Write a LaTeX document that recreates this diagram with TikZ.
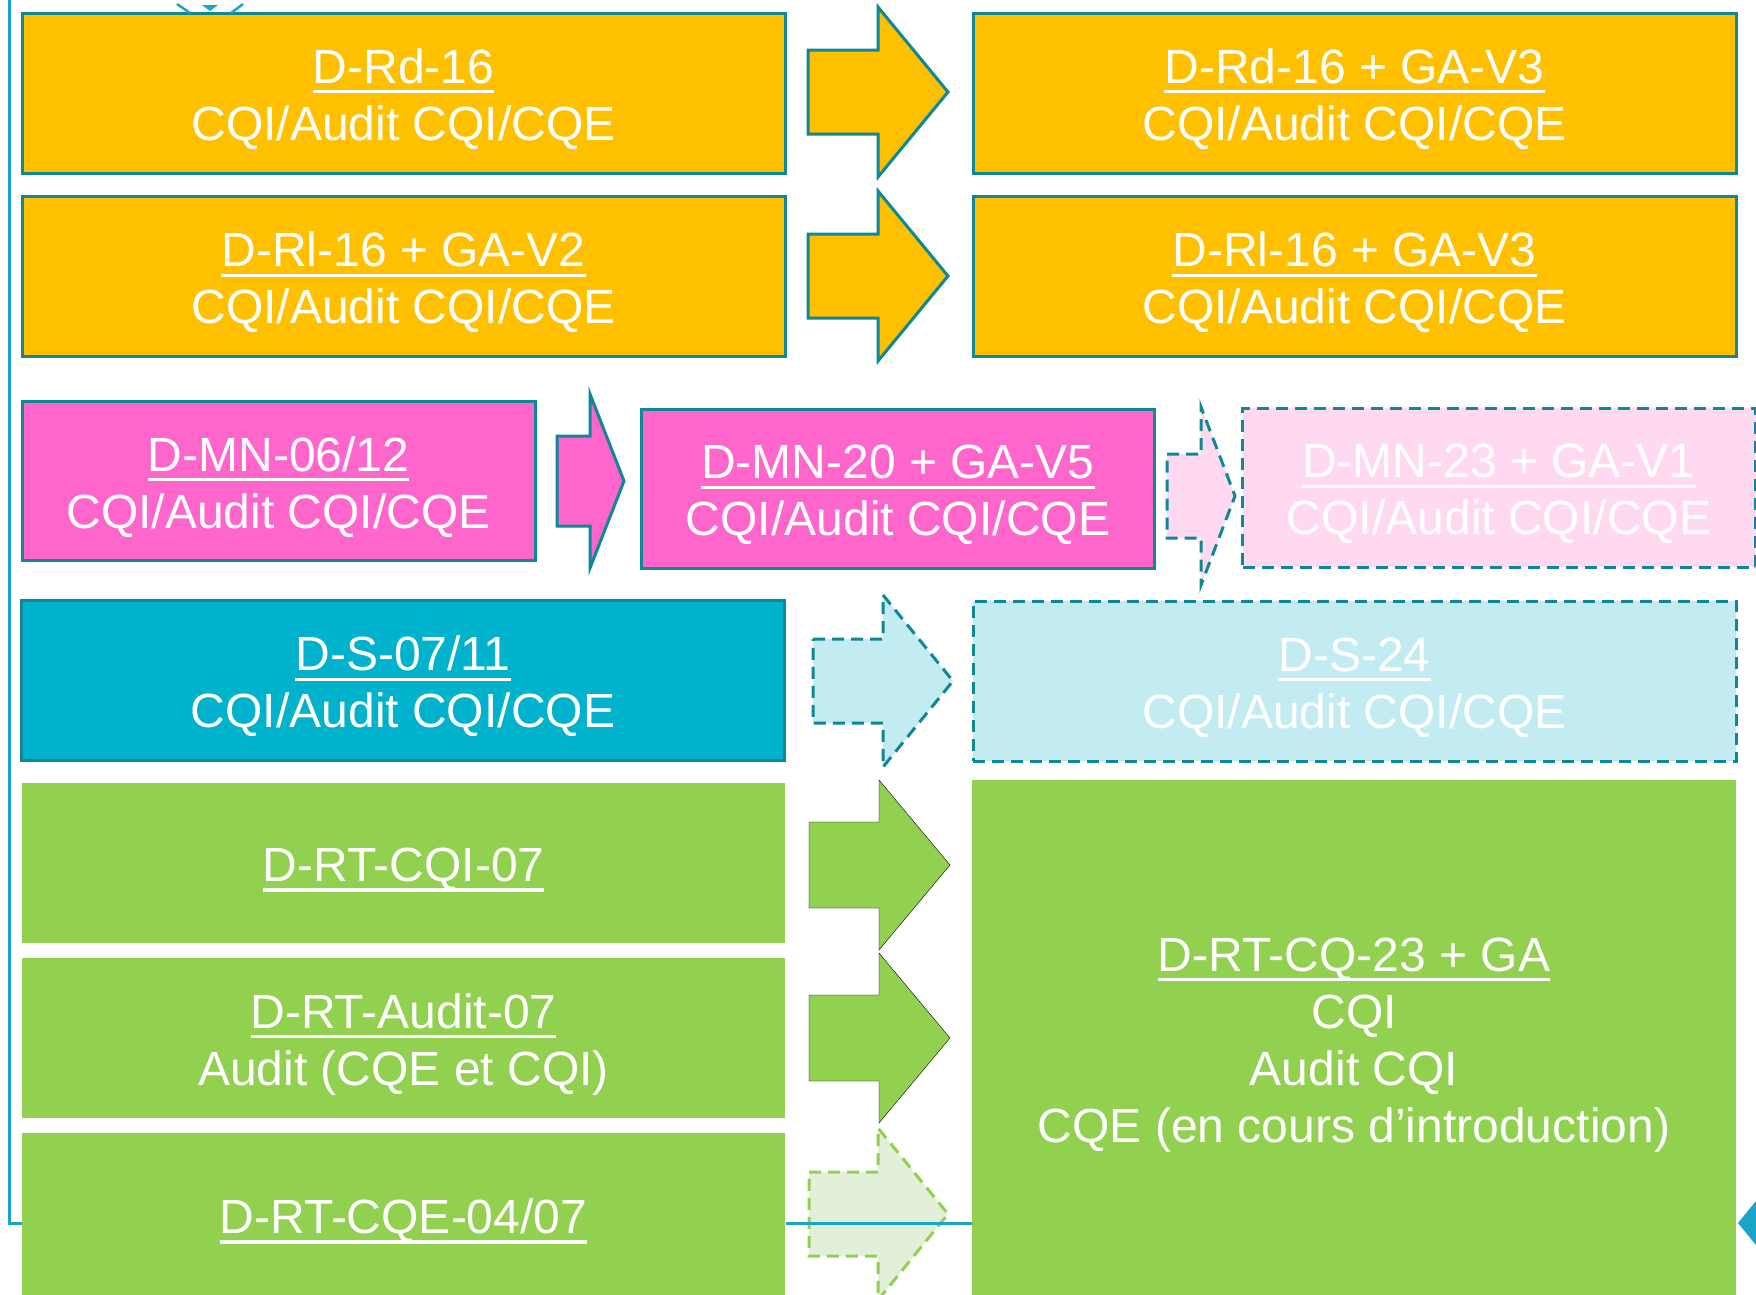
\documentclass[tikz,border=0pt]{standalone}
\usepackage{fontspec}
\setmainfont{Liberation Sans}
% underlined title line with a thick rule; the strut lowers the text block a little
\newcommand\titleul[1]{\setbox0\hbox{#1}\rule{0pt}{47pt}\rlap{\rule[-10pt]{\wd0}{3.2pt}}\box0}
% block arrow: style, left x, centre y, head base x, tip x, shaft half, head half
\newcommand\blockarrow[7]{%
  \draw[#1] (#2,#3-#6) -- (#4,#3-#6) -- (#4,#3-#7) -- (#5,#3) -- (#4,#3+#7)
    -- (#4,#3+#6) -- (#2,#3+#6) -- cycle;}
\definecolor{amber}{HTML}{FFC000}
\definecolor{rim}{HTML}{0E8796}
\definecolor{rose}{HTML}{FF66CC}
\definecolor{paleRose}{HTML}{FFD9F0}
\definecolor{sea}{HTML}{00B2CB}
\definecolor{paleSea}{HTML}{C2ECF2}
\definecolor{leaf}{HTML}{92D050}
\definecolor{paleLeaf}{HTML}{E2F0D9}
\definecolor{wire}{HTML}{1AA5C8}
\begin{document}
\begin{tikzpicture}[x=1pt,y=-1pt,
  box/.style={minimum width=763pt, minimum height=160pt, inner sep=0pt,
    align=center, text=white, font=\fontsize{48}{57}\selectfont},
  narrow/.style={minimum width=513pt, minimum height=159pt},
  solidrim/.style={draw=rim, line width=3pt},
  dashrim/.style={draw=rim, line width=3pt, dash pattern=on 12pt off 7pt},
  solidarrow/.style={line width=3pt, line join=miter},
  dasharrow/.style={line width=3pt, dash pattern=on 12pt off 7pt, line join=miter}]
\useasboundingbox (0,0) rectangle (1756,1294);
\fill[white] (0,0) rectangle (1756,1294);

% bracket line on the left and the link to the lower right block
\coordinate (brtop) at (9,0);
\coordinate (brbot) at (9,1223);
\coordinate (brend) at (24,1223);
\draw[wire, line width=3pt] (brtop) -- (brbot) -- (brend);

% block arrows
\blockarrow{fill=amber, draw=rim, solidarrow}{808}{92}{878}{948}{42}{85}
\blockarrow{fill=amber, draw=rim, solidarrow}{808}{276}{878}{948}{42}{85}
\blockarrow{fill=rose, draw=rim, solidarrow}{557}{481}{590}{624}{45}{87}
\blockarrow{fill=paleRose, draw=rim, dasharrow}{1167}{496}{1201}{1235}{42}{89}
\blockarrow{fill=paleSea, draw=rim, dasharrow}{813}{681}{883}{953}{42}{86}
\blockarrow{fill=leaf}{809}{865}{879}{950}{43}{85}
\blockarrow{fill=leaf}{809}{1038}{879}{950}{43}{85}
\blockarrow{fill=paleLeaf, draw=leaf, dasharrow}{809}{1214}{878}{948}{42}{86}

% row 1
\node[box, solidrim, fill=amber] (rd16) at (403.5,93)
  {\titleul{D-Rd-16}\\CQI/Audit CQI/CQE};
\node[box, solidrim, fill=amber] (rd16v3) at (1354.5,93)
  {\titleul{D-Rd-16 + GA-V3}\\CQI/Audit CQI/CQE};
% row 2
\node[box, solidrim, fill=amber] (rl16) at (403.5,276.5)
  {\titleul{D-Rl-16 + GA-V2}\\CQI/Audit CQI/CQE};
\node[box, solidrim, fill=amber] (rl16v3) at (1354.5,276.5)
  {\titleul{D-Rl-16 + GA-V3}\\CQI/Audit CQI/CQE};
% row 3
\node[box, narrow, solidrim, fill=rose] (mn06) at (278.5,481)
  {\titleul{D-MN-06/12}\\CQI/Audit CQI/CQE};
\node[box, narrow, solidrim, fill=rose] (mn20) at (898,488.5)
  {\titleul{D-MN-20 + GA-V5}\\CQI/Audit CQI/CQE};
\node[box, narrow, dashrim, fill=paleRose] (mn23) at (1499,487.5)
  {\titleul{D-MN-23 + GA-V1}\\CQI/Audit CQI/CQE};
% row 4
\node[box, solidrim, fill=sea] (s07) at (403,680.5)
  {\titleul{D-S-07/11}\\CQI/Audit CQI/CQE};
\node[box, dashrim, fill=paleSea] (s24) at (1354.5,681)
  {\titleul{D-S-24}\\CQI/Audit CQI/CQE};

% link line between the lower blocks
\draw[wire, line width=3pt] (786,1223) coordinate (lkA) -- (972,1223) coordinate (lkB);

% rows 5 to 7
\node[box, fill=leaf] (rtcqi) at (403.5,863) {\titleul{D-RT-CQI-07}};
\node[box, fill=leaf] (rtaudit) at (403.5,1038)
  {\titleul{D-RT-Audit-07}\\Audit (CQE et CQI)};
\node[box, fill=leaf, minimum height=164pt] (rtcqe) at (403.5,1215)
  {\titleul{D-RT-CQE-04/07}};
\node[box, fill=leaf, minimum width=764pt, minimum height=516pt] (rtcq23) at (1354,1038)
  {\titleul{D-RT-CQ-23 + GA}\\CQI\\Audit CQI\\CQE (en cours d’introduction)};

% small marks at the picture edges
\draw[wire, line width=2.5pt] (177,4) -- (190,13);
\draw[wire, line width=2.5pt] (243,4) -- (231,13);
\fill[wire] (202,5) -- (218,5) -- (210,11) -- cycle;
\fill[wire] (1738,1223) -- (1760,1196) -- (1760,1250) -- cycle;
\end{tikzpicture}
\end{document}
